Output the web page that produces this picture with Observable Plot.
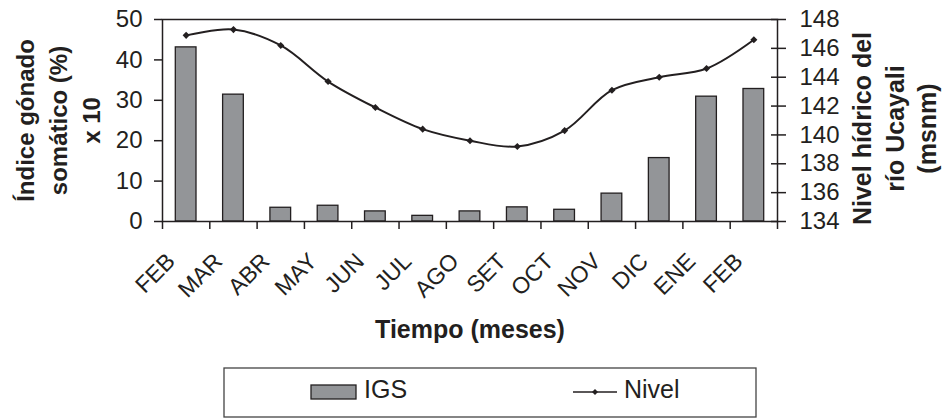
<!DOCTYPE html>
<html>
<head>
<meta charset="utf-8">
<script src="https://cdn.jsdelivr.net/npm/d3@7"></script>
<script src="https://cdn.jsdelivr.net/npm/@observablehq/plot@0.6"></script>
<style>
  html, body { margin: 0; padding: 0; background: #fff; }
  #wrap { position: relative; width: 946px; height: 420px; font-family: "Liberation Sans", Arial, Helvetica, sans-serif; color: #231f20; }
  #wrap > svg, #wrap > .layer { position: absolute; left: 0; top: 0; }
</style>
</head>
<body>
<div id="wrap"></div>
<script>
// ---- data ----
const months = ["FEB","MAR","ABR","MAY","JUN","JUL","AGO","SET","OCT","NOV","DIC","ENE","FEB"];
const igs    = [43.1, 31.4, 3.4, 3.9, 2.5, 1.4, 2.5, 3.5, 2.9, 6.9, 15.7, 30.9, 32.8];
const nivel  = [146.9, 147.3, 146.2, 143.7, 141.9, 140.4, 139.6, 139.2, 140.3, 143.1, 144.0, 144.6, 146.6];
const igsTicks   = [0, 10, 20, 30, 40, 50];
const nivelTicks = [134, 136, 138, 140, 142, 144, 146, 148];
const leftTitle  = "Índice gónado\nsomático (%)\nx 10";
const rightTitle = "Nivel hídrico del\nrío Ucayali\n(msnm)";
const xTitle     = "Tiempo (meses)";

const data = months.map((m, i) => ({i, month: m, igs: igs[i], nivel: nivel[i]}));

const FONT = '"Liberation Sans", Arial, Helvetica, sans-serif';
const INK = "#231f20";
const BAR = "#939598";
const dims = {width: 946, height: 420, marginTop: 19, marginLeft: 162, marginRight: 169, marginBottom: 199};

const main = Plot.plot({
  ...dims,
  style: {fontFamily: FONT, fontSize: "22px", color: INK, background: "transparent", overflow: "visible"},
  x: {type: "linear", domain: [0, months.length]},
  y: {domain: [0, 50]},
  marks: [
    Plot.rectY(data, {x1: "i", x2: d => d.i + 1, y: "igs", insetLeft: 13.3, insetRight: 13.3,
      fill: BAR, stroke: INK, strokeWidth: 1.3}),
    Plot.frame({stroke: INK, strokeWidth: 1.5}),
    Plot.axisY({ticks: igsTicks, tickSize: 8, tickPadding: 12, label: null, fontSize: 24, stroke: INK, strokeWidth: 1.5}),
    Plot.axisX({ticks: d3.range(months.length + 1), tickSize: 8, tickFormat: () => "", label: null, stroke: INK, strokeWidth: 1.5}),
    Plot.text(data, {x: d => d.i + 0.5, text: "month", frameAnchor: "bottom", rotate: -45,
      textAnchor: "end", lineAnchor: "middle", dx: -15, dy: 36, fontSize: 23, fill: INK}),
    Plot.text([xTitle], {text: d => d, frameAnchor: "bottom", dy: 116.7, lineAnchor: "bottom",
      textAnchor: "middle", fontWeight: "bold", fontSize: 25, fill: INK}),
    Plot.text([leftTitle], {text: d => d, frameAnchor: "left", dx: -106, rotate: -90, lineHeight: 1.375,
      textAnchor: "middle", lineAnchor: "middle", fontWeight: "bold", fontSize: 24, fill: INK})
  ]
});

const overlay = Plot.plot({
  ...dims,
  style: {fontFamily: FONT, fontSize: "22px", color: INK, background: "transparent", overflow: "visible"},
  x: {type: "linear", domain: [0, months.length], axis: null},
  y: {domain: [134, 148]},
  marks: [
    Plot.line(data, {x: d => d.i + 0.5, y: "nivel", curve: "catmull-rom", stroke: INK, strokeWidth: 2}),
    Plot.dot(data, {x: d => d.i + 0.5, y: "nivel", symbol: "diamond2", r: 3.2, fill: INK, stroke: "none"}),
    Plot.axisY({anchor: "right", ticks: nivelTicks, tickSize: 15, dx: -7, tickPadding: 14, label: null,
      fontSize: 24, stroke: INK, strokeWidth: 1.5}),
    Plot.text([rightTitle], {text: d => d, frameAnchor: "right", dx: 116, dy: 8, rotate: -90, lineHeight: 1.3,
      textAnchor: "middle", lineAnchor: "middle", fontWeight: "bold", fontSize: 25, fill: INK})
  ]
});

const wrap = document.getElementById("wrap");
wrap.appendChild(main);
wrap.appendChild(overlay);

// legend
const ns = "http://www.w3.org/2000/svg";
const leg = document.createElementNS(ns, "svg");
leg.setAttribute("width", 534);
leg.setAttribute("height", 51);
leg.setAttribute("class", "layer");
leg.style.left = "223px";
leg.style.top = "367px";
leg.innerHTML = `
  <rect x="1" y="1" width="532" height="49" fill="none" stroke="#444" stroke-width="1.3"/>
  <rect x="88" y="18" width="45" height="14" fill="${BAR}" stroke="${INK}" stroke-width="1.3"/>
  <text x="141" y="31" font-family='${FONT}' font-size="25" fill="${INK}">IGS</text>
  <line x1="350" x2="394" y1="25" y2="25" stroke="${INK}" stroke-width="1.5"/>
  <path d="M372,22 L375,25 L372,28 L369,25 Z" fill="${INK}"/>
  <text x="401" y="31" font-family='${FONT}' font-size="25" fill="${INK}">Nivel</text>
`;
wrap.appendChild(leg);
</script>
</body>
</html>
